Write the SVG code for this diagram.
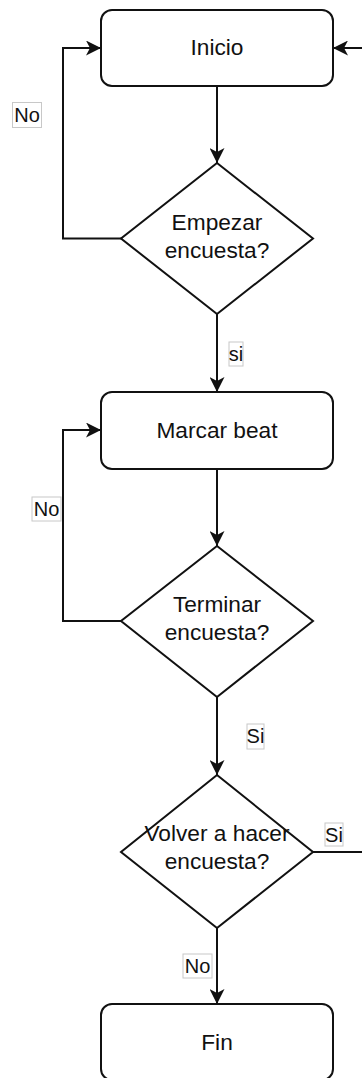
<svg xmlns="http://www.w3.org/2000/svg" width="362" height="1078" viewBox="0 0 362 1078">
<style>
.node{fill:#fff;stroke:#111;stroke-width:2}
.edge{fill:none;stroke:#111;stroke-width:2}
.t{font-family:"Liberation Sans",Arial,sans-serif;font-size:22.7px;fill:#111;text-anchor:middle}
.lb{fill:#fff;stroke:#c8c8c8;stroke-width:1}
.lt{font-family:"Liberation Sans",Arial,sans-serif;font-size:20px;fill:#111;text-anchor:middle}
</style>
<defs>
<marker id="arr" viewBox="0 0 15 15" refX="15" refY="7.5" markerWidth="15" markerHeight="15" markerUnits="userSpaceOnUse" orient="auto">
<path d="M0,0 L15,7.5 L0,15 L4,7.5 Z" fill="#111"/>
</marker>
</defs>
<rect width="362" height="1078" fill="#fff"/>
<g id="connectors">
<polyline class="edge" points="217,86 217,163" marker-end="url(#arr)"/>
<polyline class="edge" points="121,238.5 63,238.5 63,48 101,48" marker-end="url(#arr)"/>
<polyline class="edge" points="217,314 217,392" marker-end="url(#arr)"/>
<polyline class="edge" points="217,469 217,546" marker-end="url(#arr)"/>
<polyline class="edge" points="121,621 63,621 63,430 101,430" marker-end="url(#arr)"/>
<polyline class="edge" points="217,697 217,775" marker-end="url(#arr)"/>
<polyline class="edge" points="313,852 372,852"/>
<polyline class="edge" points="372,48 333,48" marker-end="url(#arr)"/>
<polyline class="edge" points="217,928 217,1004" marker-end="url(#arr)"/>
<g id="labels">
<rect class="lb" x="12.5" y="102.5" width="29" height="25"/>
<text class="lt" x="27" y="122">No</text>
<rect class="lb" x="229" y="342" width="14" height="24"/>
<text class="lt" x="236" y="361">si</text>
<rect class="lb" x="32" y="497" width="29" height="24"/>
<text class="lt" x="46.5" y="516">No</text>
<rect class="lb" x="247" y="724" width="17" height="25"/>
<text class="lt" x="255.5" y="743">Si</text>
<rect class="lb" x="325" y="823" width="18" height="23"/>
<text class="lt" x="334" y="842">Si</text>
<rect class="lb" x="183" y="954" width="29" height="24"/>
<text class="lt" x="197.5" y="973">No</text>
</g>
</g>
<g id="inicio">
<rect class="node" x="101" y="10" width="232" height="76" rx="11" ry="11"/>
<text class="t" x="217" y="55">Inicio</text>
</g>
<g id="empezar">
<polygon class="node" points="217,163 313,238.5 217,314 121,238.5"/>
<text class="t" x="217" y="229.5">Empezar</text>
<text class="t" x="217" y="257.5">encuesta?</text>
</g>
<g id="marcar">
<rect class="node" x="101" y="392" width="232" height="77" rx="11" ry="11"/>
<text class="t" x="217" y="437.5">Marcar beat</text>
</g>
<g id="terminar">
<polygon class="node" points="217,546 313,621 217,697 121,621"/>
<text class="t" x="217" y="611.8">Terminar</text>
<text class="t" x="217" y="640">encuesta?</text>
</g>
<g id="volver">
<polygon class="node" points="217,775 313,852 217,928 121,852"/>
<text class="t" x="217" y="841">Volver a hacer</text>
<text class="t" x="217" y="869">encuesta?</text>
</g>
<g id="fin">
<rect class="node" x="101" y="1004" width="232" height="76" rx="11" ry="11"/>
<text class="t" x="217" y="1050">Fin</text>
</g>
</svg>
